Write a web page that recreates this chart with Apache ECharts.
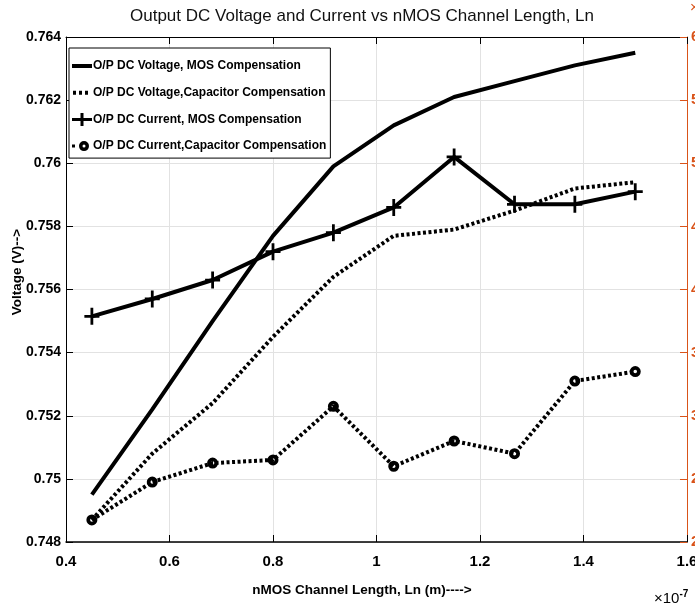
<!DOCTYPE html>
<html><head><meta charset="utf-8">
<script src="https://cdn.jsdelivr.net/npm/echarts@6/dist/echarts.min.js"></script>
<style>html,body{margin:0;padding:0;background:#fff}#c{width:695px;height:612px}</style>
</head><body><div id="c"></div>
<script>
const lengths = [0.45, 0.5667, 0.6833, 0.8, 0.9167, 1.0333, 1.15, 1.2667, 1.3833, 1.5];
const voltageMOS = [0.7495, 0.7522, 0.7550, 0.7577, 0.7599, 0.7612, 0.7621, 0.7626, 0.7631, 0.7635];
const voltageCap = [0.7487, 0.7508, 0.7524, 0.7545, 0.7564, 0.7577, 0.7579, 0.7585, 0.7592, 0.7594];
const currentMOS = [0.75515, 0.7557, 0.7563, 0.7572, 0.7578, 0.7586, 0.7602, 0.7587, 0.7587, 0.7591];
const currentCap = [0.7487, 0.7499, 0.7505, 0.7506, 0.7523, 0.7504, 0.7512, 0.7508, 0.7531, 0.7534];
const seriesNames = ['O/P DC Voltage, MOS Compensation','O/P DC Voltage,Capacitor Compensation','O/P DC Current, MOS Compensation','O/P DC Current,Capacitor Compensation'];

const FONT = '"Liberation Sans",Arial,sans-serif';
const pair = arr => lengths.map((x,i)=>[x, arr[i]]);
const plusPath = 'path://M-1.3,-8 L1.3,-8 L1.3,-1.3 L7,-1.3 L7,1.3 L1.3,1.3 L1.3,8 L-1.3,8 L-1.3,1.3 L-7,1.3 L-7,-1.3 L-1.3,-1.3 Z';
const ringPath = 'path://M5,0 A5,5 0 1,1 -5,0 A5,5 0 1,1 5,0 Z M1.6,0 A1.6,1.6 0 1,0 -1.6,0 A1.6,1.6 0 1,0 1.6,0 Z';
const orange = '#D95319';
const box = 'M0,0 L0.01,0 L0.01,0.01 Z M21,14 L20.99,14 L20.99,13.99 Z ';
const icons = [
  'path://' + box + 'M1,5 L21,5 L21,9 L1,9 Z',
  'path://' + box + 'M2,5 L5,5 L5,9 L2,9 Z M8,5 L11,5 L11,9 L8,9 Z M14,5 L17,5 L17,9 L14,9 Z',
  'path://' + box + 'M1,5.5 L21,5.5 L21,8.5 L1,8.5 Z M9.5,0.5 L12.5,0.5 L12.5,13.5 L9.5,13.5 Z',
  'path://' + box + 'M1,5.5 L4,5.5 L4,8.5 L1,8.5 Z M18,7 A5,5 0 1,1 8,7 A5,5 0 1,1 18,7 Z M14.5,7 A1.5,1.5 0 1,0 11.5,7 A1.5,1.5 0 1,0 14.5,7 Z'
];

const chart = echarts.init(document.getElementById('c'));
chart.setOption({
  animation:false,
  backgroundColor:'#fff',
  title:{text:'Output DC Voltage and Current vs nMOS Channel Length, Ln', left:357, textAlign:'center', top:3,
    textStyle:{fontFamily:FONT, fontSize:17, fontWeight:'normal', color:'#111'}},
  grid:{left:66, right:8, top:37, bottom:70, containLabel:false, outerBoundsMode:'none'},
  legend:{orient:'vertical', left:69, top:48, padding:[11,4,5,2], itemGap:12.7, itemWidth:21, itemHeight:14,
    backgroundColor:'#fff', borderColor:'#000', borderWidth:1,
    textStyle:{fontFamily:FONT, fontSize:12, fontWeight:'bold', color:'#000', padding:[0,0,0,-4]},
    data:seriesNames.map((n,i)=>({name:n, icon:icons[i], itemStyle:{color:'#000', borderWidth:0}}))},
  xAxis:[{type:'value', min:0.4, max:1.6, interval:0.2,
    axisLine:{show:true, onZero:false, lineStyle:{color:'#000', width:1.5}},
    axisTick:{show:true, inside:true, length:7, lineStyle:{color:'#000'}},
    axisLabel:{margin:12, fontFamily:FONT, fontSize:15, fontWeight:'bold', color:'#000',
      formatter:v=>String(+v.toFixed(1))},
    splitLine:{show:true, lineStyle:{color:'#e2e2e2'}}},
   {type:'value', position:'top', min:0.4, max:1.6, interval:0.2,
    axisLine:{show:true, lineStyle:{color:'#000', width:1}},
    axisTick:{show:true, inside:true, length:7, lineStyle:{color:'#000'}},
    axisLabel:{show:false}, splitLine:{show:false}}],
  yAxis:[{type:'value', min:0.748, max:0.764, interval:0.002,
    axisLine:{show:true, onZero:false, lineStyle:{color:'#000', width:1}},
    axisTick:{show:true, inside:true, length:7, lineStyle:{color:'#000'}},
    axisLabel:{margin:5, fontFamily:FONT, fontSize:14, fontWeight:'bold', color:'#000',
      formatter:v=>String(+v.toFixed(3))},
    splitLine:{show:true, lineStyle:{color:'#e2e2e2'}}},
   {type:'value', position:'right', min:2, max:6, interval:0.5,
    axisLine:{show:true, lineStyle:{color:orange, width:1}},
    axisTick:{show:true, inside:true, length:7, lineStyle:{color:orange}},
    axisLabel:{margin:4, fontFamily:FONT, fontSize:15, fontWeight:'bold', color:orange,
      formatter:v=>v.toFixed(1)},
    splitLine:{show:false}}],
  graphic:[
    {type:'text', x:17, y:272, rotation:Math.PI/2, style:{text:'Voltage (V)-->', fontFamily:FONT, fontSize:13.5, fontWeight:'bold', fill:'#000', align:'center', verticalAlign:'middle'}},
    {type:'text', x:362, y:590, style:{text:'nMOS Channel Length, Ln (m)---->', fontFamily:FONT, fontSize:13.5, fontWeight:'bold', fill:'#000', align:'center', verticalAlign:'middle'}},
    {type:'text', left:654, top:589, style:{text:'{a|×10}{b|-7}', rich:{
      a:{fontFamily:FONT, fontSize:15, color:'#000'},
      b:{fontFamily:FONT, fontSize:10, fontWeight:'bold', color:'#000', verticalAlign:'top', padding:[0,0,10,0]}}}},
    {type:'text', left:690, top:0, style:{text:'×10', fontFamily:FONT, fontSize:15, fill:orange}}
  ],
  series:[
    {name:seriesNames[0], type:'line', data:pair(voltageMOS), symbol:'none',
      lineStyle:{color:'#000', width:4}, itemStyle:{color:'#000'}, z:3},
    {name:seriesNames[1], type:'line', data:pair(voltageCap), symbol:'none',
      lineStyle:{color:'#000', width:4, type:[3,2.5], cap:'butt'}, itemStyle:{color:'#000'}, z:2},
    {name:seriesNames[2], type:'line', data:pair(currentMOS), symbol:plusPath, symbolSize:[15,17],
      lineStyle:{color:'#000', width:4}, itemStyle:{color:'#000', borderWidth:0}, z:4},
    {name:seriesNames[3], type:'line', data:pair(currentCap), symbol:ringPath, symbolSize:11,
      lineStyle:{color:'#000', width:4, type:[3,2.5], cap:'butt'}, itemStyle:{color:'#000', borderWidth:0}, z:4}
  ]
});
</script></body></html>
